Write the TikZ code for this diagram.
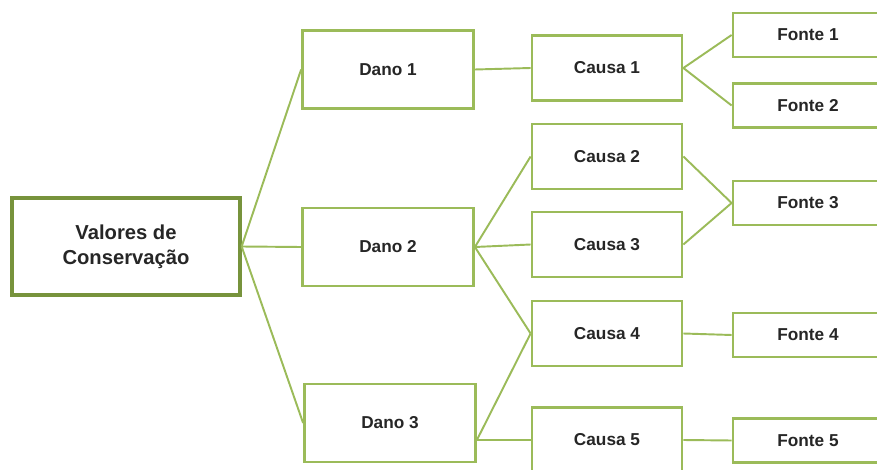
\documentclass[tikz,border=0pt]{standalone}
\usepackage{fontspec}
\setmainfont{Liberation Sans}
\definecolor{boxgreen}{HTML}{9BBB59}
\definecolor{rootgreen}{HTML}{77933C}
\definecolor{textgray}{HTML}{262626}

\begin{document}
\begin{tikzpicture}[x=0.02cm,y=-0.02cm,
  box/.style={rectangle,draw=boxgreen,line width=1.6pt,fill=white,text=textgray,inner sep=0pt,font=\bfseries\fontsize{9.8}{12}\selectfont},
  root/.style={box,draw=rootgreen,line width=1.9pt,minimum width=4.56cm,minimum height=1.94cm,align=center,font=\bfseries\fontsize{11.5}{14.2}\selectfont},
  dano/.style={box,minimum width=3.42cm,minimum height=1.56cm},
  causa/.style={box,minimum width=3cm,minimum height=1.3cm},
  fonte/.style={box,minimum width=3cm,minimum height=0.88cm},
  link/.style={draw=boxgreen,line width=1.1pt}]
\clip (0,0) rectangle (877,470);
\node[root] at (126,246.5) (v) {Valores de\\Conservação};
\node[dano] at (388,69.5) (d1) {Dano 1};
\node[dano] at (388,247) (d2) {Dano 2};
\node[dano] at (390,423) (d3) {Dano 3};
\node[causa] at (607,68) (c1) {Causa 1};
\node[causa] at (607,156.5) (c2) {Causa 2};
\node[causa] at (607,244.5) (c3) {Causa 3};
\node[causa] at (607,333.5) (c4) {Causa 4};
\node[causa] at (607,440) (c5) {Causa 5};
\node[fonte] at (808,35) (f1) {Fonte 1};
\node[fonte] at (808,105.5) (f2) {Fonte 2};
\node[fonte] at (808,203) (f3) {Fonte 3};
\node[fonte] at (808,335) (f4) {Fonte 4};
\node[fonte] at (808,440.5) (f5) {Fonte 5};

\draw[link] (v.east) -- (d1.west);
\draw[link] (v.east) -- (d2.west);
\draw[link] (v.east) -- (d3.west);
\draw[link] (d1.east) -- (c1.west);
\draw[link] (d2.east) -- (c2.west);
\draw[link] (d2.east) -- (c3.west);
\draw[link] (d2.east) -- (c4.west);
\draw[link] (d3.east |- c5.west) -- (c4.west);
\draw[link] (d3.east |- c5.west) -- (c5.west);
\draw[link] (c1.east) -- (f1.west);
\draw[link] (c1.east) -- (f2.west);
\draw[link] (c2.east) -- (f3.west);
\draw[link] (c3.east) -- (f3.west);
\draw[link] (c4.east) -- (f4.west);
\draw[link] (c5.east) -- (f5.west);
\end{tikzpicture}
\end{document}
